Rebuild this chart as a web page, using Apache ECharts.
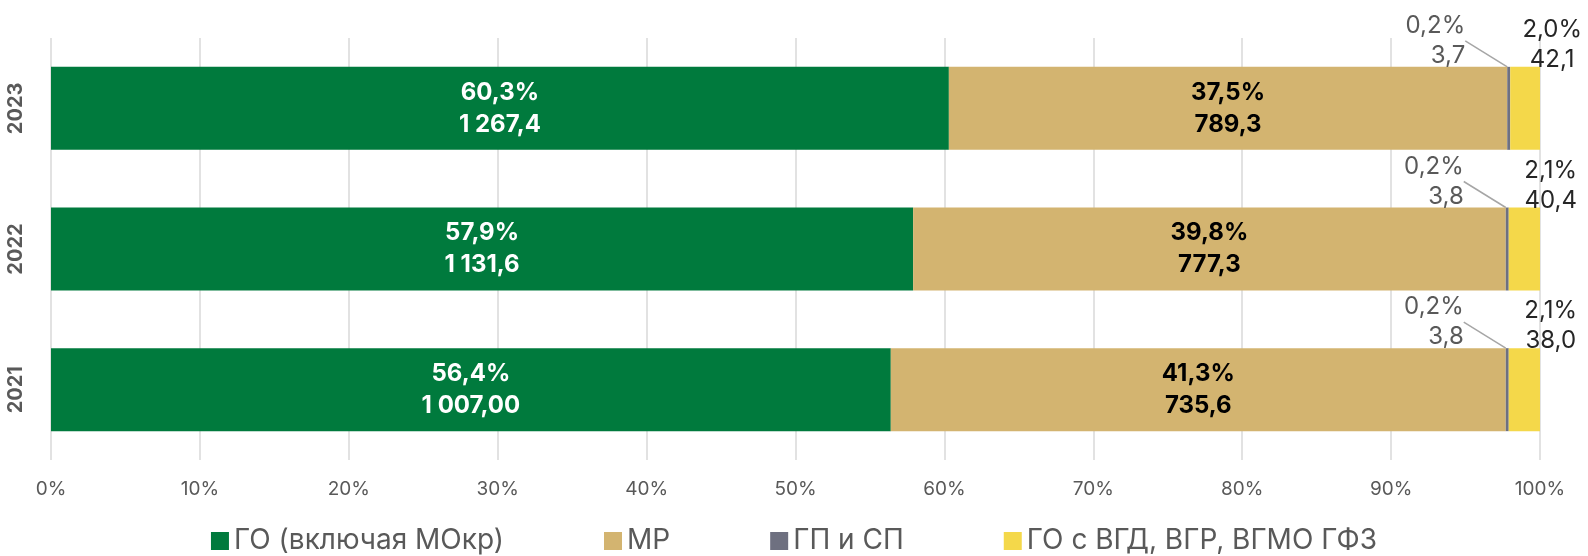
<!DOCTYPE html>
<html>
<head>
<meta charset="utf-8">
<script src="https://cdn.jsdelivr.net/npm/echarts@6/dist/echarts.min.js"></script>
<style>
  html, body { margin: 0; padding: 0; background: #fff; }
  #chart { width: 1588px; height: 556px; }
</style>
</head>
<body>
<div id="chart"></div>
<script>
// categories bottom to top
const years = ['2021', '2022', '2023']
const seriesNames = ['ГО (включая МОкр)', 'МР', 'ГП и СП', 'ГО с ВГД, ВГР, ВГМО ГФЗ']

// shares, %
const goPct = [56.4, 57.9, 60.3]
const mrPct = [41.3, 39.8, 37.5]
const gpPct = [0.2, 0.2, 0.2]
const vgdPct = [2.1, 2.1, 2.0]

// absolute values as printed on the chart
const goVal = ['1 007,00', '1 131,6', '1 267,4']
const mrVal = ['735,6', '777,3', '789,3']
const gpVal = ['3,8', '3,8', '3,7']
const vgdVal = ['38,0', '40,4', '42,1']

const xTicks = [0, 10, 20, 30, 40, 50, 60, 70, 80, 90, 100]

const colors = ['#007A3D', '#D3B470', '#6E7080', '#F4D84A']
const font = 'Inter, "Noto Sans", sans-serif'

function pctText(v) {
  return v.toFixed(1).replace('.', ',') + '%'
}

function makeLabel(pct, val) {
  return function (p) {
    return pctText(pct[p.dataIndex]) + '\n' + val[p.dataIndex]
  }
}

const chart = echarts.init(document.getElementById('chart'))

chart.setOption({
  animation: false,
  color: colors,
  textStyle: { fontFamily: font },
  grid: {
    top: 38,
    left: 51,
    right: 48,
    bottom: 96
  },
  legend: {
    top: 525,
    left: 'center',
    padding: 0,
    itemWidth: 18,
    itemHeight: 18,
    itemGap: 100,
    itemTextGap: 8,
    icon: 'rect',
    textStyle: { fontSize: 28, lineHeight: 32, color: '#595959', fontFamily: font },
    data: seriesNames
  },
  xAxis: {
    type: 'value',
    min: 0,
    max: 100,
    interval: 10,
    axisLine: { show: false },
    axisTick: { show: false },
    splitLine: { show: true, lineStyle: { color: '#D9D9D9', width: 1.5 } },
    axisLabel: {
      margin: 20,
      fontSize: 19,
      color: '#595959',
      formatter: function (v) { return xTicks.indexOf(v) >= 0 ? v + '%' : '' }
    }
  },
  yAxis: {
    type: 'category',
    data: years,
    axisLine: { show: false },
    axisTick: { show: false },
    axisLabel: {
      rotate: 90,
      margin: 25,
      align: 'center',
      verticalAlign: 'bottom',
      fontSize: 20,
      fontWeight: 'bold',
      color: '#595959'
    }
  },
  series: [
    {
      name: seriesNames[0],
      type: 'bar',
      stack: 'total',
      barWidth: 83,
      data: goPct,
      label: {
        show: true,
        position: 'inside',
        color: '#fff',
        fontWeight: 'bold',
        fontSize: 24,
        lineHeight: 32,
        formatter: makeLabel(goPct, goVal)
      }
    },
    {
      name: seriesNames[1],
      type: 'bar',
      stack: 'total',
      data: mrPct,
      label: {
        show: true,
        position: 'inside',
        color: '#000',
        fontWeight: 'bold',
        fontSize: 24,
        lineHeight: 32,
        formatter: makeLabel(mrPct, mrVal)
      }
    },
    {
      name: seriesNames[2],
      type: 'bar',
      stack: 'total',
      data: gpPct,
      label: {
        show: true,
        position: [-42, -26],
        align: 'right',
        verticalAlign: 'middle',
        color: '#595959',
        fontSize: 24,
        lineHeight: 30,
        formatter: makeLabel(gpPct, gpVal)
      },
      labelLine: {
        show: true,
        lineStyle: { color: '#A6A6A6', width: 1.5 }
      }
    },
    {
      name: seriesNames[3],
      type: 'bar',
      stack: 'total',
      data: vgdPct,
      label: {
        show: true,
        position: [42, -22],
        align: 'center',
        verticalAlign: 'middle',
        color: '#262626',
        fontSize: 24,
        lineHeight: 30,
        formatter: makeLabel(vgdPct, vgdVal)
      }
    }
  ]
})
</script>
</body>
</html>
